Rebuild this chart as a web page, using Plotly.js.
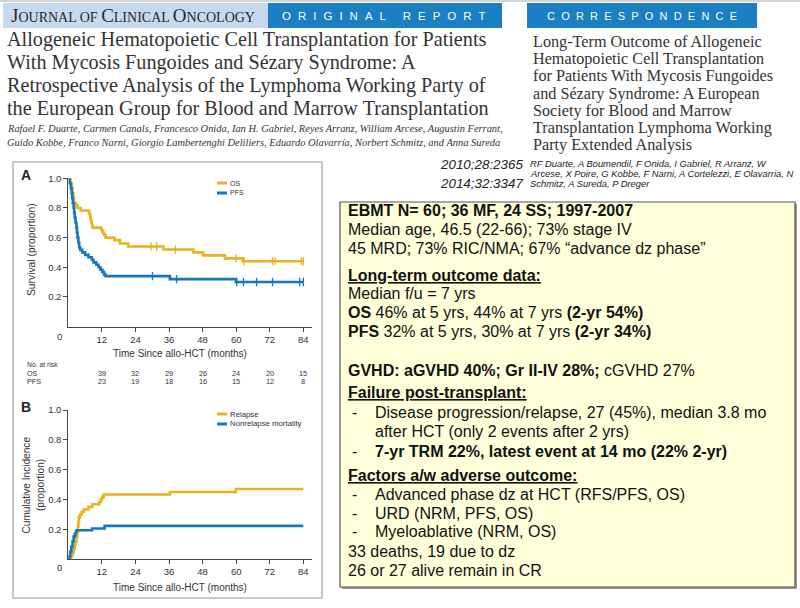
<!DOCTYPE html>
<html><head><meta charset="utf-8">
<script src="https://cdn.plot.ly/plotly-3.0.1.min.js"></script>
<style>html,body{margin:0;padding:0;background:#fff}#chart{width:800px;height:608px}</style>
</head><body><div id="chart"></div>
<script>
// ---------- DATA ----------
// Panel A: Kaplan-Meier overall survival (OS) and progression-free survival (PFS)
const osMonths  = [0, 0.8, 1.2, 1.5, 1.8, 2.1, 2.6, 3.3, 4.4, 7.4, 7.7, 7.9, 8.1, 8.3, 8.5, 8.7, 11.8, 12.3, 12.8, 13.3, 16.5, 18.5, 21.4, 34.0, 44.7, 48.2, 56.0, 62.4, 84];
const osSurv    = [1.0, 0.967, 0.933, 0.90, 0.867, 0.833, 0.817, 0.80, 0.783, 0.767, 0.75, 0.733, 0.717, 0.70, 0.683, 0.667, 0.65, 0.633, 0.617, 0.60, 0.583, 0.56, 0.54, 0.52, 0.50, 0.48, 0.46, 0.44, 0.44];
const osCensor  = [29.6, 31.6, 38.3, 59.9, 62.8, 73.0, 73.9, 83.3, 84];
const pfsMonths = [0, 0.5, 0.9, 1.2, 1.4, 1.6, 1.9, 2.1, 2.3, 2.6, 2.9, 3.1, 3.3, 3.6, 3.9, 4.3, 5.0, 6.0, 7.2, 8.4, 9.0, 10.0, 10.8, 11.5, 12.2, 12.8, 13.3, 36.3, 59.9, 84];
const pfsSurv   = [1.0, 0.967, 0.933, 0.90, 0.867, 0.833, 0.80, 0.767, 0.733, 0.70, 0.667, 0.633, 0.60, 0.567, 0.533, 0.517, 0.50, 0.483, 0.467, 0.45, 0.433, 0.417, 0.40, 0.383, 0.367, 0.35, 0.34, 0.32, 0.30, 0.30];
const pfsCensor = [30.1, 38.7, 60.2, 62.6, 67.3, 73.0, 82.7, 84];
const riskMonths = [12, 24, 36, 48, 60, 72, 84];
const riskOS     = [39, 32, 29, 26, 24, 20, 15];
const riskPFS    = [23, 19, 18, 16, 15, 12, 8];
// Panel B: cumulative incidence of relapse and nonrelapse mortality
const relMonths = [0, 0.9, 1.3, 1.7, 2.0, 2.3, 2.6, 2.9, 3.2, 3.4, 3.6, 3.8, 4.2, 4.8, 5.6, 7.2, 8.6, 11.0, 11.6, 12.1, 12.7, 36.3, 59.9, 84];
const relInc    = [0, 0.017, 0.033, 0.05, 0.067, 0.10, 0.117, 0.15, 0.183, 0.217, 0.25, 0.283, 0.30, 0.317, 0.333, 0.35, 0.367, 0.383, 0.40, 0.417, 0.433, 0.45, 0.47, 0.47];
const nrmMonths = [0, 0.3, 0.7, 1.1, 1.5, 1.9, 2.3, 2.7, 3.0, 8.5, 13.0, 84];
const nrmInc    = [0, 0.017, 0.05, 0.083, 0.117, 0.15, 0.167, 0.183, 0.193, 0.205, 0.222, 0.222];
const xTicks = [12, 24, 36, 48, 60, 72, 84];
const yTicks = [0.2, 0.4, 0.6, 0.8, 1.0];
const yTickText = ['0.2', '0.4', '0.6', '0.8', '1.0'];

// ---------- TEXT ----------
const jcoTitle = ["Allogeneic Hematopoietic Cell Transplantation for Patients",
  "With Mycosis Fungoides and Sézary Syndrome: A",
  "Retrospective Analysis of the Lymphoma Working Party of",
  "the European Group for Blood and Marrow Transplantation"];
const jcoAuthors = ["Rafael F. Duarte, Carmen Canals, Francesco Onida, Ian H. Gabriel, Reyes Arranz, William Arcese, Augustin Ferrant,",
  "Guido Kobbe, Franco Narni, Giorgio Lambertenghi Deliliers, Eduardo Olavarría, Norbert Schmitz, and Anna Sureda"];
const corrTitle = ["Long-Term Outcome of Allogeneic", "Hematopoietic Cell Transplantation", "for Patients With Mycosis Fungoides",
  "and Sézary Syndrome: A European", "Society for Blood and Marrow", "Transplantation Lymphoma Working", "Party Extended Analysis"];
const citations = ["2010;28:2365", "2014;32:3347"];
const corrAuthors = ["RF Duarte, A Boumendil, F Onida, I Gabriel, R Arranz, W",
  "Arcese, X Poire, G Kobbe, F Narni, A Cortelezzi, E Olavarria, N", "Schmitz, A Sureda, P Dreger"];
const boxLines = [
  "<b>EBMT N= 60; 36 MF, 24 SS; 1997-2007</b>",
  "Median age, 46.5 (22-66); 73% stage IV",
  "45 MRD; 73% RIC/NMA; 67% “advance dz phase”",
  "<b><u>Long-term outcome data:</u></b>",
  "Median f/u = 7 yrs",
  "<b>OS</b> 46% at 5 yrs, 44% at 7 yrs <b>(2-yr 54%)</b>",
  "<b>PFS</b> 32% at 5 yrs, 30% at 7 yrs <b>(2-yr 34%)</b>",
  "<b>GVHD: aGVHD 40%; Gr II-IV 28%;</b> cGVHD 27%",
  "<b><u>Failure post-transplant:</u></b>",
  "-|Disease progression/relapse, 27 (45%), median 3.8 mo",
  " |after HCT (only 2 events after 2 yrs)",
  "-|<b>7-yr TRM 22%, latest event at 14 mo (22% 2-yr)</b>",
  "<b><u>Factors a/w adverse outcome:</u></b>",
  "-|Advanced phase dz at HCT (RFS/PFS, OS)",
  "-|URD (NRM, PFS, OS)",
  "-|Myeloablative (NRM, OS)",
  "33 deaths, 19 due to dz",
  "26 or 27 alive remain in CR"];

// ---------- LAYOUT HELPERS ----------
const W = 800, H = 608;
const px = v => v / W, py = v => 1 - v / H;
const GOLD = '#e8b320', BLUE = '#1677bd';
const SANS = 'Liberation Sans, Arial, sans-serif';
const SERIF = 'Liberation Serif, Times New Roman, serif';
const ann = [];
function txt(x, y, text, size, o) {
  o = o || {};
  ann.push(Object.assign({xref: 'paper', yref: 'paper', x: px(x), y: py(y), text: text, showarrow: false,
    xanchor: 'left', yanchor: 'middle', borderpad: 0,
    font: {family: o.family || SANS, size: size, color: o.color || '#222'}}, o.extra || {}));
}
const shapes = [];
function rect(x0, y0, x1, y1, fill, lc, lw) {
  shapes.push({type: 'rect', xref: 'paper', yref: 'paper', x0: px(x0), x1: px(x1), y0: py(y1), y1: py(y0),
    fillcolor: fill, line: {color: lc || 'rgba(0,0,0,0)', width: lw || 0}, layer: 'below'});
}
function hline(x0, x1, y, color, w) {
  shapes.push({type: 'line', xref: 'paper', yref: 'paper', x0: px(x0), x1: px(x1), y0: py(y), y1: py(y),
    line: {color: color, width: w}, layer: 'above'});
}
function stepAt(ts, vs, t) { let v = vs[0]; for (let i = 0; i < ts.length; i++) if (ts[i] <= t) v = vs[i]; return v; }

// ---------- HEADER ----------
hline(0, 800, 1, '#aaa', 1);
rect(3, 3, 268, 28, '#c7d9ee');
rect(268, 3, 502, 28, '#1a7fc3');
rect(527, 3, 757, 28, '#1a7fc3');
txt(10, 16, "J<span style='font-size:14px'>OURNAL OF </span>C<span style='font-size:14px'>LINICAL </span>O<span style='font-size:14px'>NCOLOGY</span>", 19, {family: SERIF, color: '#2a2a2a'});
txt(281, 16, "<span style='letter-spacing:7px'>ORIGINAL REPORT</span>", 11.5, {color: '#fff'});
txt(546, 16, "<span style='letter-spacing:6.2px'>CORRESPONDENCE</span>", 11, {color: '#fff'});
jcoTitle.forEach((s, i) => txt(6, 40 + i * 22.7, s, 20.2, {family: SERIF, color: '#333'}));
jcoAuthors.forEach((s, i) => txt(6, 128 + i * 14, '<i>' + s + '</i>', 10.45, {family: SERIF, color: '#333'}));
corrTitle.forEach((s, i) => txt(532, 42 + i * 17.2, s, 16.2, {family: SERIF, color: '#333'}));
citations.forEach((s, i) => txt(439, 164 + i * 19, '<i>' + s + '</i>', 13.4, {color: '#222'}));
corrAuthors.forEach((s, i) => txt(529, 163 + i * 10, '<i>' + s + '</i>', 9.4, {color: '#222'}));

// ---------- SUMMARY BOX ----------
rect(342, 204, 797, 589, '#9a9a9a');
rect(340, 202, 795, 587, '#ffffd9', '#555', 1.2);
const boxY = [210, 229.3, 248.3, 275, 293.3, 312.3, 331.7, 370, 392.5, 412.7, 431.7, 451.7, 475, 494, 513.3, 531.7, 551.7, 570];
boxLines.forEach((s, i) => {
  if (s.indexOf('|') >= 0) {
    const parts = s.split('|');
    if (parts[0].trim()) txt(351, boxY[i], parts[0], 16, {color: '#111'});
    txt(374, boxY[i], parts[1], 16, {color: '#111'});
  } else txt(347, boxY[i], s, 16, {color: '#111'});
});

// ---------- LEFT PANEL FRAME ----------
rect(13, 162, 322, 598, '#fff', '#b8b8b8', 1.6);
txt(20, 175, '<b>A</b>', 14, {color: '#222'});
txt(20, 407, '<b>B</b>', 14, {color: '#222'});
// axis titles
txt(180, 353, 'Time Since allo-HCT (months)', 10, {color: '#333', extra: {xanchor: 'center'}});
txt(180, 587, 'Time Since allo-HCT (months)', 10, {color: '#333', extra: {xanchor: 'center'}});
txt(32, 250, 'Survival (proportion)', 10.3, {color: '#333', extra: {xanchor: 'center', textangle: -90}});
txt(25.5, 485, 'Cumulative Incidence', 10.1, {color: '#333', extra: {xanchor: 'center', textangle: -90}});
txt(40, 485, '(proportion)', 10.1, {color: '#333', extra: {xanchor: 'center', textangle: -90}});
txt(59.3, 336, '0', 9.5, {color: '#333', extra: {xanchor: 'center'}});
txt(59.3, 567.7, '0', 9.5, {color: '#333', extra: {xanchor: 'center'}});
// legends (drawn manually)
function legendItem(y, color, label, size) {
  shapes.push({type: 'line', xref: 'paper', yref: 'paper', x0: px(217), x1: px(227), y0: py(y), y1: py(y), line: {color: color, width: 3}});
  txt(229, y, label, size, {color: '#333'});
}
legendItem(183, GOLD, 'OS', 7);
legendItem(193, BLUE, 'PFS', 7);
legendItem(414, GOLD, 'Relapse', 7.8);
legendItem(424, BLUE, 'Nonrelapse mortality', 7.8);
// number at risk table
txt(26, 364, 'No. at risk', 6.8, {color: '#333'});
txt(26, 373, 'OS', 7.2, {color: '#333'});
txt(26, 381.3, 'PFS', 7.2, {color: '#333'});
riskMonths.forEach((m, i) => {
  ann.push({xref: 'x', yref: 'paper', x: m, y: py(373), text: String(riskOS[i]), showarrow: false, xanchor: 'center', yanchor: 'middle', font: {family: SANS, size: 7.4, color: '#333'}});
  ann.push({xref: 'x', yref: 'paper', x: m, y: py(381.3), text: String(riskPFS[i]), showarrow: false, xanchor: 'center', yanchor: 'middle', font: {family: SANS, size: 7.4, color: '#333'}});
});

// ---------- TRACES ----------
const lineTrace = (x, y, color, xa, ya) => ({x: x, y: y, type: 'scatter', mode: 'lines', line: {shape: 'hv', color: color, width: 2.6}, xaxis: xa, yaxis: ya, hoverinfo: 'skip'});
const censorTrace = (ts, curveT, curveV, color) => ({x: ts, y: ts.map(t => stepAt(curveT, curveV, t)), type: 'scatter', mode: 'markers',
  marker: {symbol: 'line-ns-open', size: 6, color: color, line: {color: color, width: 1.3}}, xaxis: 'x', yaxis: 'y', hoverinfo: 'skip'});
const data = [
  lineTrace(osMonths, osSurv, GOLD, 'x', 'y'),
  lineTrace(pfsMonths, pfsSurv, BLUE, 'x', 'y'),
  censorTrace(osCensor, osMonths, osSurv, GOLD),
  censorTrace(pfsCensor, pfsMonths, pfsSurv, BLUE),
  lineTrace(relMonths, relInc, GOLD, 'x2', 'y2'),
  lineTrace(nrmMonths, nrmInc, BLUE, 'x2', 'y2')
];

const xAx = (anchor) => ({domain: [px(68.3), px(311.7)], range: [0, 87], anchor: anchor, tickvals: xTicks, ticks: 'outside', ticklen: 4, tickwidth: 1,
  tickcolor: '#444', showline: true, linecolor: '#444', linewidth: 1, showgrid: false, zeroline: false, fixedrange: true,
  tickfont: {family: SANS, size: 9.5, color: '#333'}});
const yAx = (anchor, b, t) => ({domain: [py(b), py(t)], range: [0, 1], anchor: anchor, tickvals: yTicks, ticktext: yTickText, ticks: 'outside', ticklen: 4, tickwidth: 1,
  tickcolor: '#444', showline: true, linecolor: '#444', linewidth: 1, showgrid: false, zeroline: false, fixedrange: true,
  tickfont: {family: SANS, size: 9.5, color: '#333'}});

const layout = {
  width: W, height: H, margin: {l: 0, r: 0, t: 0, b: 0}, paper_bgcolor: '#fff', plot_bgcolor: 'rgba(0,0,0,0)', showlegend: false,
  xaxis: xAx('y'), yaxis: yAx('x', 326.5, 178.3),
  xaxis2: xAx('y2'), yaxis2: yAx('x2', 559, 410),
  shapes: shapes, annotations: ann
};
Plotly.newPlot('chart', data, layout, {staticPlot: true, displayModeBar: false});
</script></body></html>
